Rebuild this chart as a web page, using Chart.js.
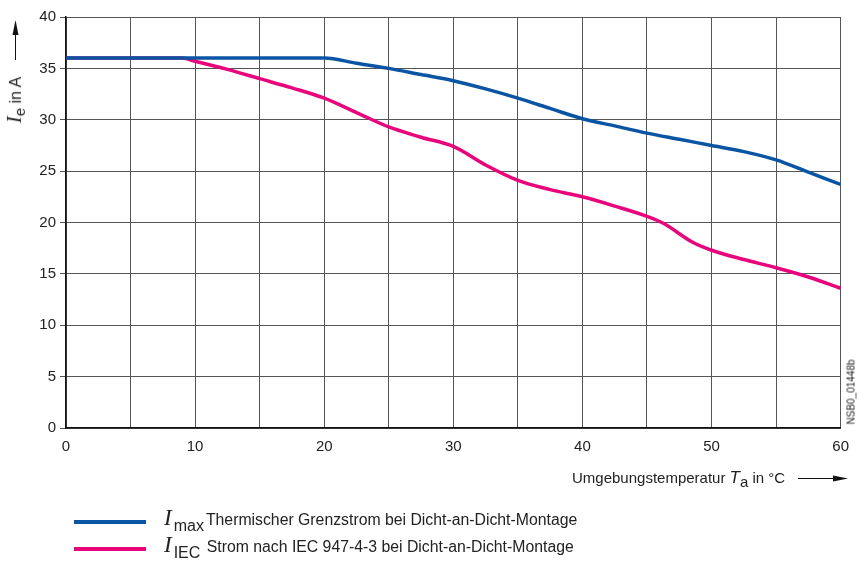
<!DOCTYPE html>
<html>
<head>
<meta charset="utf-8">
<script src="https://cdn.jsdelivr.net/npm/chart.js@4.4.1/dist/chart.umd.min.js"></script>
<style>
  body { margin: 0; background: #fff; font-family: "Liberation Sans", Arial, sans-serif; color: #222; }
  #wrap { position: relative; width: 859px; height: 574px; }
  #myChart { position: absolute; left: 0; top: 0; }
  .lbl { position: absolute; white-space: nowrap; font-size: 15px; }
  .sym { font-family: "Liberation Serif", "DejaVu Serif", serif; font-style: italic; font-size: 23px; }
  .ylab { left: 15px; top: 100px; font-size: 16px; transform: translate(-50%, -50%) rotate(-90deg); }
  .code { font-size: 10px; left: 851px; top: 392px; transform: translate(-50%, -50%) rotate(-90deg); }
  .leg { font-size: 15.8px; left: 164px; }
  .leg sub { font-size: 16px; vertical-align: -6px; margin-left: 2px; margin-right: 2px; }
</style>
</head>
<body>
<div id="wrap">
  <canvas id="myChart" width="859" height="574"></canvas>
  <div class="lbl ylab"><span class="sym" style="font-size:21px">I</span><sub style="font-size:15px">e</sub> in A</div>
  <div class="lbl" style="left:572px; top:468px;">Umgebungstemperatur <span style="font-style:italic; font-size:17px">T</span><sub style="font-size:15px">a</sub> in °C</div>
  <div class="lbl code">NSB0_01448b</div>
  <div class="lbl leg" style="top:505px;"><span class="sym">I</span><sub>max</sub>Thermischer Grenzstrom bei Dicht-an-Dicht-Montage</div>
  <div class="lbl leg" style="top:532px;"><span class="sym">I</span><sub>IEC</sub> Strom nach IEC 947-4-3 bei Dicht-an-Dicht-Montage</div>
</div>
<script>
const temps = [0, 5, 10, 15, 20, 22.5, 25, 27.5, 30, 32.5, 35, 37.5, 40, 42.5, 45, 47.5, 50, 52.5, 55, 57.5, 60];
const imaxValues = [36, 36, 36, 36, 36, 35.5, 35.0, 34.4, 33.8, 33.0, 32.1, 31.1, 30.1, 29.4, 28.7, 28.1, 27.5, 26.9, 26.1, 24.9, 23.7];

const iecTemps = [0, 5, 9, 10, 12.5, 15, 17.5, 20, 22.5, 25, 27.5, 30, 32.5, 35, 37.5, 40, 42.5, 45, 46.3, 48.5, 50, 52.5, 55, 57.5, 60];
const iecValues = [36, 36, 36, 35.7, 34.9, 34.0, 33.1, 32.1, 30.7, 29.3, 28.3, 27.4, 25.6, 24.1, 23.2, 22.5, 21.6, 20.6, 19.9, 18.1, 17.3, 16.4, 15.6, 14.7, 13.6];

const blueColor = '#0a55a3';
const pinkColor = '#e8047a';

const toPoints = (xs, ys) => xs.map((x, i) => ({ x: x, y: ys[i] }));

// arrows next to the axis titles and the legend lines
const extrasPlugin = {
    id: 'extras',
    afterDraw(chart) {
        const ctx = chart.ctx;
        ctx.save();
        ctx.strokeStyle = '#111';
        ctx.fillStyle = '#111';
        ctx.lineWidth = 1;
        // y arrow
        ctx.beginPath();
        ctx.moveTo(15.5, 60);
        ctx.lineTo(15.5, 32);
        ctx.stroke();
        ctx.beginPath();
        ctx.moveTo(15.5, 20);
        ctx.lineTo(12.5, 35);
        ctx.lineTo(18.5, 35);
        ctx.closePath();
        ctx.fill();
        // x arrow
        ctx.beginPath();
        ctx.moveTo(798, 478.5);
        ctx.lineTo(835, 478.5);
        ctx.stroke();
        ctx.beginPath();
        ctx.moveTo(848, 478.5);
        ctx.lineTo(833, 475.5);
        ctx.lineTo(833, 481.5);
        ctx.closePath();
        ctx.fill();
        // legend lines
        ctx.lineWidth = 4;
        ctx.strokeStyle = blueColor;
        ctx.beginPath();
        ctx.moveTo(74, 522);
        ctx.lineTo(146, 522);
        ctx.stroke();
        ctx.strokeStyle = pinkColor;
        ctx.beginPath();
        ctx.moveTo(74, 549);
        ctx.lineTo(146, 549);
        ctx.stroke();
        ctx.restore();
    }
};

const myChart = new Chart(document.getElementById('myChart'), {
    type: 'line',
    data: {
        datasets: [{
            label: 'Imax',
            data: toPoints(temps, imaxValues),
            borderColor: blueColor,
            borderWidth: 3.5,
            pointRadius: 0,
            cubicInterpolationMode: 'monotone'
        }, {
            label: 'IIEC',
            data: toPoints(iecTemps, iecValues),
            borderColor: pinkColor,
            borderWidth: 3.5,
            pointRadius: 0,
            cubicInterpolationMode: 'monotone'
        }]
    },
    options: {
        responsive: false,
        animation: false,
        layout: { padding: { left: 0, top: 17, right: 18, bottom: 116 } },
        plugins: {
            legend: { display: false },
            tooltip: { enabled: false }
        },
        scales: {
            x: {
                type: 'linear',
                min: 0,
                max: 60,
                afterFit: s => { s.height = 30; },
                ticks: {
                    stepSize: 5,
                    padding: 10,
                    maxRotation: 0,
                    color: '#222',
                    font: { family: 'Liberation Sans, Arial', size: 15 },
                    callback: v => (v % 10 === 0 ? v : '')
                },
                grid: { color: '#555', lineWidth: 1, drawTicks: false },
                border: { color: '#111', width: 1.5 }
            },
            y: {
                min: 0,
                max: 40,
                afterFit: s => { s.width = 66; },
                ticks: {
                    stepSize: 5,
                    padding: 4,
                    color: '#222',
                    font: { family: 'Liberation Sans, Arial', size: 15 }
                },
                grid: { color: '#555', lineWidth: 1, tickLength: 6, tickColor: '#555' },
                border: { color: '#111', width: 1.5 }
            }
        }
    },
    plugins: [extrasPlugin]
});
</script>
</body>
</html>
